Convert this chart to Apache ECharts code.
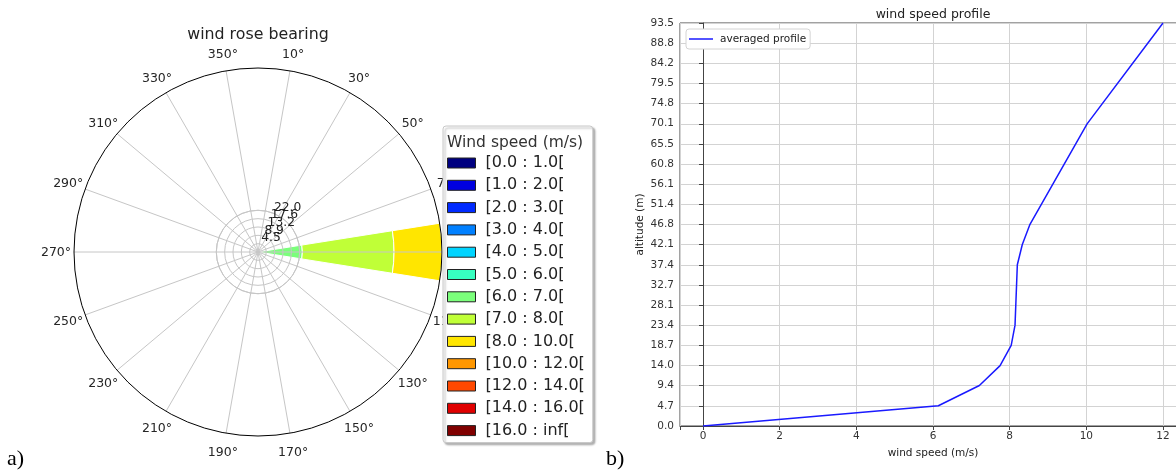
<!DOCTYPE html>
<html>
<head>
<meta charset="utf-8">
<script src="https://cdn.jsdelivr.net/npm/echarts@6/dist/echarts.min.js"></script>
<style>
html, body { margin: 0; padding: 0; background: #fff; }
#main { width: 1176px; height: 473px; }
</style>
</head>
<body>
<div id="main"></div>
<script>
// ---- wind rose: 16 direction sectors, share of time (%) per speed bin ----
const directions = ['N', 'NNE', 'NE', 'ENE', 'E', 'ESE', 'SE', 'SSE',
                    'S', 'SSW', 'SW', 'WSW', 'W', 'WNW', 'NW', 'NNW'];
const speedBins = ['[0.0 : 1.0[', '[1.0 : 2.0[', '[2.0 : 3.0[', '[3.0 : 4.0[',
                   '[4.0 : 5.0[', '[5.0 : 6.0[', '[6.0 : 7.0[', '[7.0 : 8.0[',
                   '[8.0 : 10.0[', '[10.0 : 12.0[', '[12.0 : 14.0[', '[14.0 : 16.0[',
                   '[16.0 : inf['];
const binColors = ['#000080', '#0000e0', '#002aff', '#0080ff', '#00d4ff', '#37ffc0',
                   '#7bff7b', '#c0ff37', '#ffe600', '#ff9700', '#ff4800', '#e00000',
                   '#800000'];
// all the wind comes from the east sector
const eastFreq = [0, 0, 0, 0, 0, 0, 23.4, 48.4, 28.2, 0, 0, 0, 0];
const roseRadiusMax = 97.1;
const ringMax = 22.0;
const ringStep = 4.4;
const ringLabels = ['4.5', '8.9', '13.2', '17.6', '22.0'];

// ---- averaged wind speed profile ----
const profileSpeed = [0, 6.14, 7.21, 7.75, 8.04, 8.14, 8.20, 8.33, 8.53, 10.02, 12.0];
const profileAltitude = [0, 4.7, 9.4, 14.0, 18.7, 23.4, 37.4, 42.1, 46.8, 70.1, 93.5];
const altitudeStep = 4.675;
const altitudeTickLabels = ['0.0', '4.7', '9.4', '14.0', '18.7', '23.4', '28.1', '32.7',
                            '37.4', '42.1', '46.8', '51.4', '56.1', '60.8', '65.5', '70.1',
                            '74.8', '79.5', '84.2', '88.8', '93.5'];

const FONT = '"DejaVu Sans", sans-serif';
const GRID_GRAY = '#c6c6c6';
const roseCenter = [258, 252];
const roseRadius = 184;
// the ring axis ends a hair past its last ring so that ring keeps its label
const ringAxisMax = ringMax + 1e-4;

// Bearing labels sit centred on a circle just outside the rim; ECharts anchors
// them by one edge, so each label gets its own padding to re-centre it.
const BEARING_FONT_SIZE = 12.5;
const BEARING_LABEL_DIST = 202;
const BEARING_MARGIN = -40;
function bearingLabelStyles() {
  const ctx = document.createElement('canvas').getContext('2d');
  ctx.font = BEARING_FONT_SIZE + 'px "DejaVu Sans"';
  const anchorR = roseRadius + BEARING_MARGIN;
  const rich = {};
  for (let b = 10; b < 360; b += 20) {
    const th = (90 - b) * Math.PI / 180;
    const c = Math.cos(th), s = Math.sin(th);
    const w = ctx.measureText(b + '°').width;
    const ax = anchorR * c, ay = -anchorR * s;
    const xc = BEARING_LABEL_DIST * c, yc = -BEARING_LABEL_DIST * s + 1;
    let pl = 0, pr = 0, pt = 0, pb = 0;
    const hAlign = Math.abs(ax) / roseRadius < 0.3 ? 'center' : (ax > 0 ? 'left' : 'right');
    const vAlign = Math.abs(ay) / roseRadius < 0.3 ? 'middle' : (ay > 0 ? 'top' : 'bottom');
    if (hAlign === 'center') { const sh = xc - ax; if (sh > 0) pl = 2 * sh; else pr = -2 * sh; }
    else if (hAlign === 'left') pl = Math.max(0, (xc - w / 2) - ax);
    else pr = Math.max(0, ax - (xc + w / 2));
    if (vAlign === 'middle') { const sh = yc - ay; if (sh > 0) pt = 2 * sh; else pb = -2 * sh; }
    else if (vAlign === 'top') pt = Math.max(0, (yc - 5.5) - ay);
    else pb = Math.max(0, ay - (yc + 7));
    rich['b' + b] = { padding: [pt, pr, pb, pl], fontSize: BEARING_FONT_SIZE,
                      fontFamily: FONT, color: '#262626' };
  }
  return rich;
}

const chart = echarts.init(document.getElementById('main'));

const roseSeries = speedBins.map((bin, i) => ({
  type: 'bar',
  name: bin,
  coordinateSystem: 'polar',
  polarIndex: 2,
  stack: 'rose',
  barCategoryGap: '20%',
  clip: true,
  silent: true,
  data: directions.map(d => (d === 'E' && eastFreq[i] > 0) ? eastFreq[i] : null),
  itemStyle: { color: binColors[i], borderColor: '#ffffff', borderWidth: 1 }
}));

const option = {
  animation: false,
  backgroundColor: '#ffffff',
  textStyle: { fontFamily: FONT },
  title: [
    { text: 'wind rose bearing', left: 258, top: 27, textAlign: 'center', padding: 0,
      textStyle: { fontFamily: FONT, fontSize: 15.8, fontWeight: 'normal', color: '#222' } },
    { text: 'Wind speed (m/s)', left: 447, top: 135, padding: 0, z: 10,
      textStyle: { fontFamily: FONT, fontSize: 15.5, fontWeight: 'normal', color: '#333' } },
    { text: 'wind speed profile', left: 933, top: 8, textAlign: 'center', padding: 0,
      textStyle: { fontFamily: FONT, fontSize: 12.5, fontWeight: 'normal', color: '#222' } }
  ],
  legend: [
    {
      data: speedBins, orient: 'vertical', left: 443, top: 126,
      icon: 'rect', itemWidth: 28, itemHeight: 10, itemGap: 4.3,
      padding: [28, 8, 3, 4],
      backgroundColor: '#ffffff', borderColor: '#c8c8c8', borderWidth: 1, borderRadius: 3,
      shadowColor: 'rgba(0,0,0,0.3)', shadowBlur: 2, shadowOffsetX: 2, shadowOffsetY: 2,
      itemStyle: { borderColor: '#222', borderWidth: 1 },
      textStyle: { fontFamily: FONT, fontSize: 16, color: '#222', lineHeight: 18, padding: [0, 0, 0, 5] },
      selectedMode: false
    },
    {
      data: ['averaged profile'], left: 686, top: 29,
      icon: 'rect', itemWidth: 24, itemHeight: 1.5, padding: [4, 4, 4, 3],
      backgroundColor: '#ffffff', borderColor: '#d4d4d4', borderWidth: 1, borderRadius: 3,
      textStyle: { fontFamily: FONT, fontSize: 10.5, color: '#222', lineHeight: 12, padding: [0, 0, 0, 2] },
      selectedMode: false
    }
  ],
  polar: [
    { center: roseCenter, radius: roseRadius },
    { center: roseCenter, radius: roseRadius * ringAxisMax / roseRadiusMax },
    { center: roseCenter, radius: roseRadius }
  ],
  angleAxis: [
    {
      polarIndex: 0, type: 'value', min: 0, max: 360, interval: 20,
      startAngle: 80, clockwise: true, z: 3,
      axisLine: { show: true, lineStyle: { color: '#000', width: 1 } },
      axisTick: { show: false },
      axisLabel: { margin: BEARING_MARGIN, fontFamily: FONT, fontSize: BEARING_FONT_SIZE, color: '#262626',
                   rich: bearingLabelStyles(),
                   formatter: v => { const b = (v + 10) % 360; return '{b' + b + '|' + b + '°}'; } },
      splitLine: { show: true, lineStyle: { color: GRID_GRAY, width: 1 } }
    },
    { polarIndex: 1, type: 'value', min: 0, max: 360, startAngle: 67.5, show: false },
    { polarIndex: 2, type: 'category', data: directions, startAngle: 101.25, clockwise: true, show: false }
  ],
  radiusAxis: [
    { polarIndex: 0, type: 'value', min: 0, max: roseRadiusMax, show: false },
    {
      polarIndex: 1, type: 'value', min: 0, max: ringAxisMax, interval: ringStep, z: 3,
      axisLine: { show: false }, axisTick: { show: false },
      splitLine: { show: true, lineStyle: { color: GRID_GRAY, width: 1 } },
      axisLabel: { margin: 0, align: 'left', verticalAlign: 'bottom',
                   showMinLabel: false, showMaxLabel: false, hideOverlap: false,
                   fontFamily: FONT, fontSize: 12.3, color: '#222',
                   formatter: v => {
                     const k = Math.round(v / ringStep);
                     return (k > 0 && Math.abs(v - k * ringStep) < 1e-6) ? ringLabels[k - 1] : '';
                   } }
    },
    { polarIndex: 2, type: 'value', min: 0, max: roseRadiusMax, show: false }
  ],
  grid: { left: 680, top: 23, width: 506, bottom: 47, outerBoundsMode: 'none',
          show: true, borderColor: '#444', borderWidth: 1 },
  xAxis: {
    type: 'value', min: -0.6, max: 12.6, minInterval: 2, maxInterval: 2, splitNumber: 7,
    axisLine: { show: true, lineStyle: { color: '#444' } },
    axisTick: { show: true, inside: false, length: 4, lineStyle: { color: '#444' } },
    axisLabel: { margin: 5, fontFamily: FONT, fontSize: 10.5, color: '#333',
                 formatter: v => Math.abs(v / 2 - Math.round(v / 2)) < 1e-6 ? String(Math.round(v)) : '' },
    splitLine: { show: true, lineStyle: { color: '#d3d3d3', width: 1 } },
    name: 'wind speed (m/s)', nameLocation: 'middle', nameGap: 22,
    nameTextStyle: { fontFamily: FONT, fontSize: 10.5, color: '#222' }
  },
  yAxis: {
    type: 'value', min: 0, max: 93.5, interval: altitudeStep,
    axisLine: { show: true, lineStyle: { color: '#444' } },
    axisTick: { show: true, inside: false, length: 4, lineStyle: { color: '#444' } },
    axisLabel: { margin: 6, fontFamily: FONT, fontSize: 10.5, color: '#333',
                 formatter: v => altitudeTickLabels[Math.round(v / altitudeStep)] },
    splitLine: { show: true, lineStyle: { color: '#d3d3d3', width: 1 } },
    name: 'altitude (m)', nameLocation: 'middle', nameGap: 34, nameRotate: 90,
    nameTextStyle: { fontFamily: FONT, fontSize: 10.5, color: '#222' }
  },
  graphic: [
    { type: 'text', left: 7, top: 448, style: { text: 'a)', font: '22px "Liberation Serif", serif', fill: '#000' } },
    { type: 'text', left: 606, top: 448, style: { text: 'b)', font: '22px "Liberation Serif", serif', fill: '#000' } }
  ],
  series: roseSeries.concat([{
    type: 'line',
    name: 'averaged profile',
    xAxisIndex: 0, yAxisIndex: 0,
    data: profileSpeed.map((s, i) => [s, profileAltitude[i]]),
    symbol: 'none',
    lineStyle: { color: '#1a1aff', width: 1.5 },
    itemStyle: { color: '#1a1aff' }
  }])
};

chart.setOption(option);
</script>
</body>
</html>
